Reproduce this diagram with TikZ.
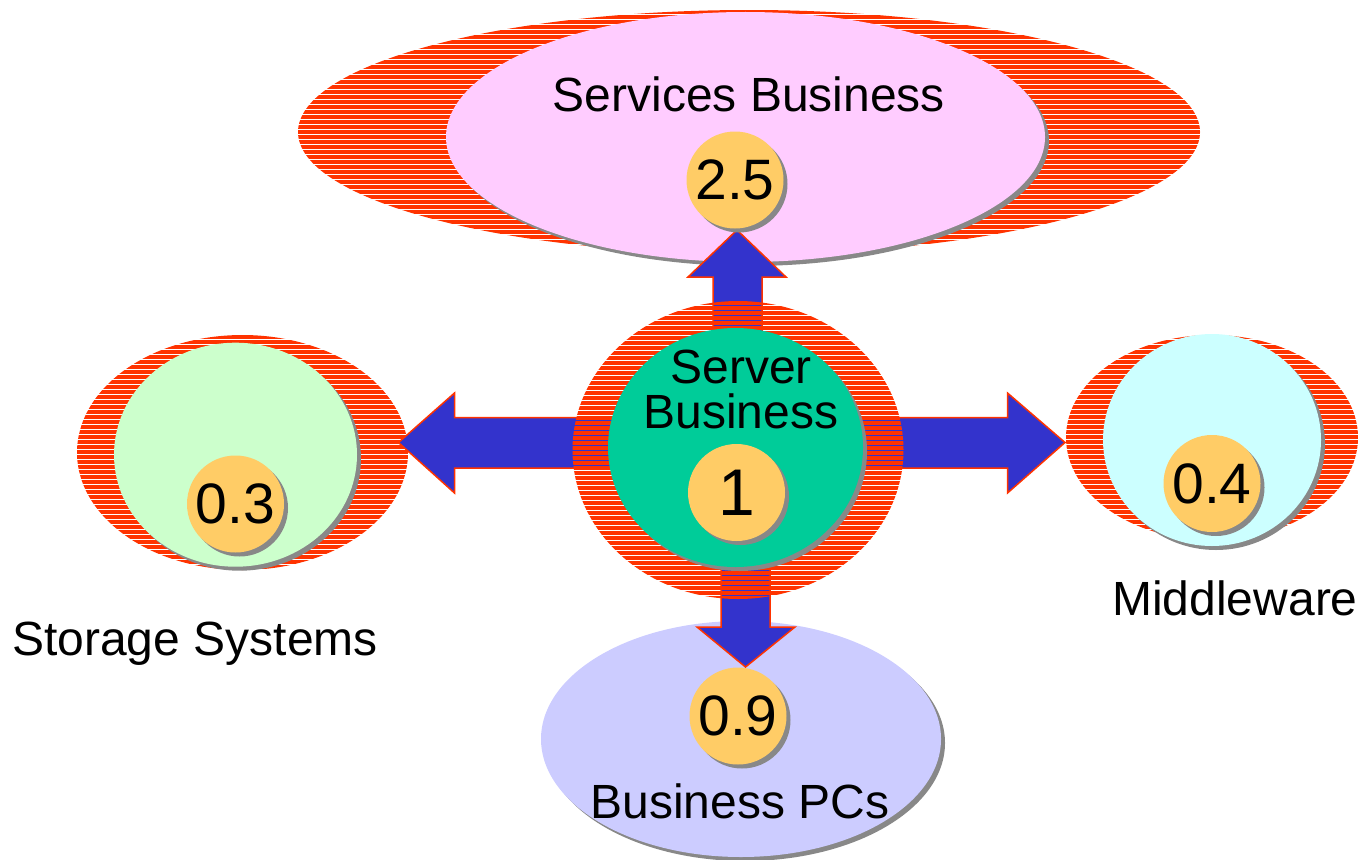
\documentclass[tikz,border=0pt]{standalone}
\usepackage{fontspec}
\setmainfont{Liberation Sans}
\usetikzlibrary{shapes.geometric,shadows}
\definecolor{stripered}{HTML}{FF3300}
\definecolor{pinkfill}{HTML}{FFCCFF}
\definecolor{servergreen}{HTML}{00CC99}
\definecolor{lightgreen}{HTML}{CCFFCC}
\definecolor{lightcyan}{HTML}{CCFFFF}
\definecolor{lavender}{HTML}{CCCCFF}
\definecolor{numorange}{HTML}{FFCC66}
\definecolor{arrowblue}{HTML}{3333CC}
\definecolor{shadowgray}{HTML}{888888}
\newcommand\stripeblob[5]{%
  \node[ellipse, inner sep=0pt, minimum width=#4*2pt, minimum height=#5*2pt] (#1) at (#2,#3) {};
  \begin{scope}
    \clip (#2,#3) ellipse [x radius=#4pt, y radius=#5pt];
    \foreach \k in {0,...,64}
      \fill[stripered] (#2-#4-2,#3-#5+5*\k) rectangle ++(2*#4+4,4);
  \end{scope}}
\begin{document}
\begin{tikzpicture}[x=1pt,y=-1pt,
  blob/.style={ellipse, inner sep=0pt, draw=none,
    drop shadow={shadow xshift=4pt, shadow yshift=-4pt, fill=shadowgray, opacity=1}},
  numc/.style={circle, fill=numorange, minimum size=97pt, inner sep=0pt,
    font=\fontsize{57}{57}\selectfont,
    drop shadow={shadow xshift=4pt, shadow yshift=-4pt, fill=shadowgray, opacity=1}},
  lbl/.style={font=\fontsize{48}{45}\selectfont, align=center, inner sep=0pt},
  fatarrow/.style={fill=arrowblue, draw=stripered, line width=1.5pt, line join=miter}]
\useasboundingbox (0,0) rectangle (1359,859);

% outer groups
\stripeblob{stripetop}{749}{132}{451}{122}
\node[blob, fill=pinkfill, minimum width=599pt, minimum height=250pt] (services) at (745.5,137) {};
\node[lbl, anchor=base] (servicesl) at (749,111) {Services Business};

\stripeblob{stripeleft}{242.5}{452.5}{165.5}{117.5}
\node[blob, fill=lightgreen, minimum width=243pt, minimum height=224pt] (storage) at (235.5,454.7) {};

\stripeblob{striperight}{1212}{437.5}{146}{102.5}
\node[blob, fill=lightcyan, minimum width=218pt, minimum height=212pt] (middle) at (1212,440) {};

\node[blob, fill=lavender, minimum width=400pt, minimum height=236pt] (pcs) at (741,739) {};

% arrows
\draw[fatarrow] (713,455) -- (713,277) -- (688,277) -- (737,230) -- (786,277) -- (762,277) -- (762,455) -- cycle;
\draw[fatarrow] (721,445) -- (721,627) -- (697,627) -- (745.5,667) -- (795,627) -- (770,627) -- (770,445) -- cycle;
\draw[fatarrow] (740,417.5) -- (454.5,417.5) -- (454.5,393) -- (398.5,442.5) -- (454.5,493) -- (454.5,468) -- (740,468) -- cycle;
\draw[fatarrow] (735,417.5) -- (1007.5,417.5) -- (1007.5,393) -- (1065,442.5) -- (1007.5,493) -- (1007.5,468) -- (735,468) -- cycle;

% centre
\stripeblob{stripecentre}{738}{450}{165.5}{149}
\node[blob, fill=servergreen, minimum width=255pt, minimum height=239pt] (server) at (735.5,447.5) {};
\node[lbl, anchor=base] (serverl1) at (741,383) {Server};
\node[lbl, anchor=base] (serverl2) at (741,428) {Business};

% numbers
\node[numc] (n25) at (735,180) {2.5};
\node[numc, font=\fontsize{66}{66}\selectfont] (n1) at (736.5,492.5) {\raisebox{-3pt}{1}};
\node[numc] (n03) at (235.5,504) {0.3};
\node[numc] (n04) at (1212,483.5) {0.4};
\node[numc] (n09) at (738,716) {0.9};

% outer labels
\node[lbl, anchor=base] (storagel) at (195,655) {Storage Systems};
\node[lbl, anchor=base] (middlel) at (1235,615) {Middleware};
\node[lbl, anchor=base] (pcsl) at (740,818) {Business PCs};
\end{tikzpicture}
\end{document}
